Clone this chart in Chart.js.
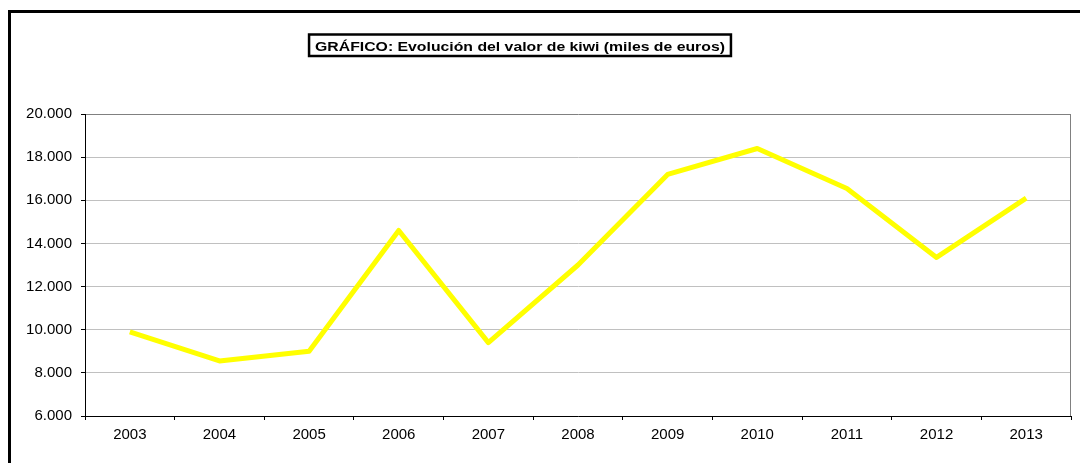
<!DOCTYPE html>
<html>
<head>
<meta charset="utf-8">
<script src="https://cdn.jsdelivr.net/npm/chart.js@4.4.0/dist/chart.umd.min.js"></script>
<style>
  html, body { margin: 0; padding: 0; background: #fff; }
  #c { display: block; }
</style>
</head>
<body>
<canvas id="c" width="1080" height="463"></canvas>
<script>
const years = ['2003','2004','2005','2006','2007','2008','2009','2010','2011','2012','2013'];
const kiwiValues = [9900, 8550, 9000, 14600, 9400, 13000, 17200, 18400, 16550, 13350, 16100];
const yMin = 6000, yMax = 20000, yStep = 2000;
const chartTitle = 'GRÁFICO: Evolución del valor de kiwi (miles de euros)';

function fmtThousands(v) {
  return String(Math.round(v)).replace(/\B(?=(\d{3})+(?!\d))/g, '.');
}

const framePlugin = {
  id: 'frame',
  beforeDraw(chart) {
    const ctx = chart.ctx;
    ctx.save();
    ctx.fillStyle = '#fff';
    ctx.fillRect(0, 0, chart.width, chart.height);
    ctx.fillStyle = '#000';
    ctx.fillRect(8, 10, 3, chart.height - 10);
    ctx.fillRect(8, 10, chart.width - 8, 3);
    ctx.restore();
  },
  afterDraw(chart) {
    const ctx = chart.ctx;
    const a = chart.chartArea;
    ctx.save();
    ctx.strokeStyle = '#808080';
    ctx.lineWidth = 1;
    ctx.beginPath();
    ctx.moveTo(Math.round(a.right) - 0.5, a.top);
    ctx.lineTo(Math.round(a.right) - 0.5, a.bottom);
    ctx.stroke();
    // title box
    const sx = 1.17;
    ctx.font = 'bold 13.5px "Liberation Sans", Arial, sans-serif';
    const w = ctx.measureText(chartTitle).width * sx;
    const cx = 520, base = 50.5;
    const left = cx - w / 2 - 6, right = cx + w / 2 + 6;
    ctx.lineWidth = 2.5;
    ctx.strokeStyle = '#000';
    ctx.strokeRect(left, 34.5, right - left, 21.5);
    ctx.translate(cx, base);
    ctx.scale(sx, 1);
    ctx.fillStyle = '#000';
    ctx.textAlign = 'center';
    ctx.textBaseline = 'alphabetic';
    ctx.fillText(chartTitle, 0, 0);
    ctx.restore();
  }
};

new Chart(document.getElementById('c'), {
  type: 'line',
  data: {
    labels: years,
    datasets: [{
      data: kiwiValues,
      borderColor: '#ffff00',
      borderWidth: 5,
      pointRadius: 0,
      pointHoverRadius: 0,
      tension: 0,
      fill: false,
      borderJoinStyle: 'round',
      borderCapStyle: 'butt'
    }]
  },
  options: {
    responsive: false,
    animation: false,
    events: [],
    layout: { padding: { left: 0, top: 114, right: 9, bottom: 0 } },
    plugins: { legend: { display: false }, title: { display: false }, tooltip: { enabled: false } },
    scales: {
      x: {
        type: 'category',
        offset: true,
        afterFit(scale) { scale.height = 47; },
        grid: { offset: true, drawOnChartArea: false, drawTicks: true, tickLength: 4, tickColor: '#000', lineWidth: 1 },
        border: { display: true, color: '#000', width: 1 },
        ticks: { color: '#000', padding: 6, maxRotation: 0, autoSkip: false,
                 font: { family: '"Liberation Sans", Arial, sans-serif', size: 15 } }
      },
      y: {
        min: yMin, max: yMax,
        afterFit(scale) { scale.width = 85; },
        grid: {
          color: (c) => (c.tick && c.tick.value === yMax) ? '#808080' : '#c0c0c0',
          lineWidth: 1, drawTicks: true, tickLength: 4, tickColor: '#000'
        },
        border: { display: true, color: '#000', width: 1 },
        ticks: { stepSize: yStep, color: '#000', padding: 9,
                 font: { family: '"Liberation Sans", Arial, sans-serif', size: 15 },
                 callback: (v) => fmtThousands(v) }
      }
    }
  },
  plugins: [framePlugin]
});
</script>
</body>
</html>
